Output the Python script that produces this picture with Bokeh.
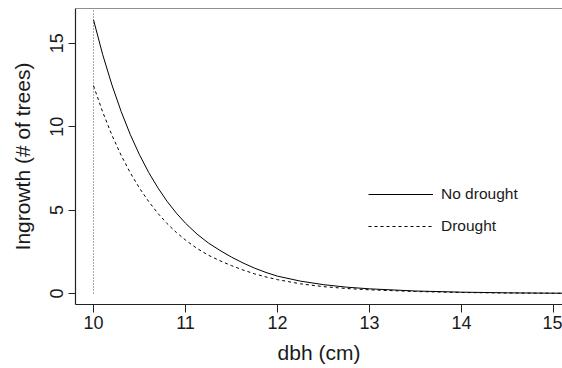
from bokeh.plotting import figure
from bokeh.models import Span, Legend, LegendItem, ColumnDataSource, FixedTicker
from bokeh.embed import file_html
from bokeh.resources import INLINE

# Data
dbh = [10.0, 10.1, 10.2, 10.3, 10.4, 10.5, 10.6, 10.7, 10.8, 10.9, 11.0,
       11.125, 11.25, 11.375, 11.5, 11.625, 11.75, 11.875, 12.0, 12.25, 12.5, 12.75,
       13.0, 13.5, 14.0, 14.5, 15.0, 15.1]
no_drought = [16.4, 14.31, 12.50, 10.91, 9.52, 8.31, 7.25, 6.33, 5.52, 4.82, 4.21,
              3.56, 3.02, 2.58, 2.18, 1.83, 1.52, 1.26, 1.04, 0.74, 0.53, 0.38,
              0.28, 0.15, 0.08, 0.04, 0.02, 0.018]
drought = [12.45, 10.87, 9.49, 8.28, 7.23, 6.31, 5.51, 4.80, 4.19, 3.66, 3.20,
           2.70, 2.29, 1.96, 1.67, 1.41, 1.18, 0.99, 0.83, 0.58, 0.41, 0.30,
           0.22, 0.12, 0.06, 0.03, 0.015, 0.012]
threshold = 10.0
x_ticks = [10, 11, 12, 13, 14, 15]
y_ticks = [0, 5, 10, 15]

FONT = "Liberation Sans"
y_top = 17.08

p = figure(width=562, height=368, output_backend="svg", toolbar_location=None,
           x_range=(9.804, 15.098), y_range=(-0.659, y_top),
           min_border_left=75, min_border_right=0, min_border_top=8, min_border_bottom=64)
p.outline_line_color = None
p.xgrid.visible = False
p.ygrid.visible = False
p.background_fill_color = "white"

for ax in (p.xaxis[0], p.yaxis[0]):
    ax.axis_line_color = "#222222"
    ax.axis_line_width = 1.2
    ax.major_tick_line_color = "#222222"
    ax.major_tick_in = 0
    ax.minor_tick_line_color = None
    ax.major_label_text_font = FONT
    ax.major_label_text_font_size = "18px"
    ax.major_label_text_color = "#1a1a1a"
    ax.axis_label_text_font = FONT
    ax.axis_label_text_font_size = "21px"
    ax.axis_label_text_font_style = "normal"
    ax.axis_label_text_color = "#1a1a1a"

p.xaxis[0].ticker = FixedTicker(ticks=x_ticks)
p.yaxis[0].ticker = FixedTicker(ticks=y_ticks)
p.xaxis[0].major_tick_out = 8
p.yaxis[0].major_tick_out = 7
p.xaxis[0].major_label_standoff = 3
p.yaxis[0].major_label_standoff = 5
p.yaxis[0].major_label_orientation = "vertical"
p.xaxis[0].axis_label = "dbh (cm)"
p.yaxis[0].axis_label = "Ingrowth (# of trees)"
p.xaxis[0].axis_label_standoff = 9
p.yaxis[0].axis_label_standoff = 14

# top border of the box
p.add_layout(Span(location=y_top, dimension="width", line_color="#222222", line_width=1.2))

# dotted threshold line
p.segment(x0=[threshold], y0=[0], x1=[threshold], y1=[y_top],
          line_color="#555555", line_width=1, line_dash="1 2")

src = ColumnDataSource(dict(x=dbh, nd=no_drought, d=drought))
r1 = p.line("x", "nd", source=src, line_color="black", line_width=1)
r2 = p.line("x", "d", source=src, line_color="black", line_width=1, line_dash="3 3")

legend = Legend(items=[LegendItem(label="No drought", renderers=[r1]),
                       LegendItem(label="Drought", renderers=[r2])],
                location=(293, 68), glyph_width=65, glyph_height=20,
                label_height=20, spacing=12, padding=0, margin=0,
                label_standoff=8,
                label_text_font=FONT, label_text_font_size="15.5px",
                label_text_color="#1a1a1a",
                border_line_color=None, background_fill_alpha=0)
p.add_layout(legend)

open("out.html", "w").write(file_html(p, INLINE))
